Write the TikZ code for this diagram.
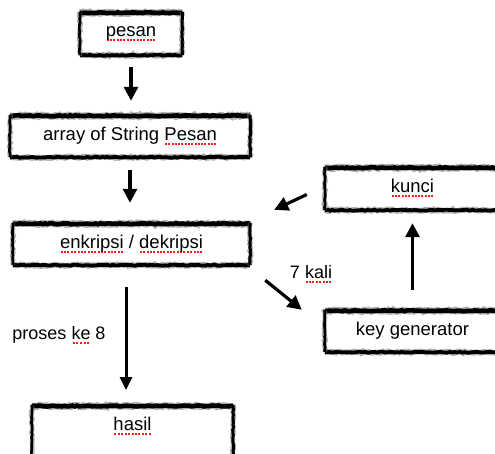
\documentclass[tikz,border=0pt]{standalone}
\usepackage{fontspec}
\setmainfont{Liberation Sans}
\usetikzlibrary{arrows.meta,decorations.pathmorphing}

% red dotted spell-check underline below a word
\newcommand\sqword[1]{\setbox0\hbox{#1}\rlap{\raisebox{-4.5pt}{\color{red!90}\hbox to \wd0{\xleaders\hbox to 3.2pt{\hss\rule{2pt}{2pt}\hss}\hfill}}}\box0\relax}

% hand-brushed frame round a named box
\newcommand\brushframe[1]{%
  \draw[brushfuzz, line width=6.5pt] ([yshift=-1pt]#1.north west) -- ([yshift=-1pt]#1.north east);
  \draw[brushink,  line width=4.6pt] ([yshift=-1pt]#1.north west) -- ([yshift=-1pt]#1.north east);
  \draw[brushfuzz, line width=5.5pt] (#1.south west) -- (#1.south east);
  \draw[brushink,  line width=3.8pt] (#1.south west) -- (#1.south east);
  \draw[brushfuzz, line width=4.5pt] (#1.north west) -- (#1.south west);
  \draw[brushink,  line width=2.6pt] (#1.north west) -- (#1.south west);
  \draw[brushfuzz, line width=4.5pt] (#1.north east) -- (#1.south east);
  \draw[brushink,  line width=3pt] (#1.north east) -- (#1.south east);
}

\begin{document}
\begin{tikzpicture}[x=1pt,y=-1pt,
  box/.style={rectangle, fill=white, inner sep=0pt, font=\fontsize{18.5}{21}\selectfont},
  lbl/.style={inner sep=0pt, font=\fontsize{18}{21}\selectfont},
  brushink/.style={black, line cap=butt,
    decorate, decoration={random steps, segment length=2.5pt, amplitude=0.5pt}},
  brushfuzz/.style={black!55, opacity=0.55, line cap=butt,
    decorate, decoration={random steps, segment length=2pt, amplitude=0.9pt}},
  arr/.style={line width=3.2pt, -{Triangle[length=14pt,width=14pt]}},
  thinarr/.style={line width=3pt, -{Triangle[length=13pt,width=12pt]}}]

\clip (0,0) rectangle (495,453);

% boxes
\node[box, minimum width=102pt, minimum height=43pt] (pesan) at (131,33.5) {\sqword{pesan}};
\node[box, minimum width=240pt, minimum height=42pt] (array) at (130,136) {array of String \sqword{Pesan}};
\node[box, minimum width=237pt, minimum height=42pt] (enk) at (131.5,244) {\sqword{enkripsi} / \sqword{dekripsi}};
\node[box, minimum width=175pt, minimum height=43pt] (kunci) at (412.5,188.5) {\sqword{kunci}};
\node[box, minimum width=175pt, minimum height=42pt] (keygen) at (412.5,331) {key generator};
\node[box, anchor=north, minimum width=201pt, text height=13pt, text depth=23pt, inner ysep=12pt] (hasil) at (132.5,405) {\sqword{hasil}};

\foreach \b in {pesan,array,enk,kunci,keygen,hasil} {\brushframe{\b}}

% labels
\node[lbl] (tujuh) at (311,274) {7 \sqword{kali}};
\node[lbl] (proses) at (59,335) {proses \sqword{ke} 8};

% connectors
\draw[arr, shorten <=12pt, shorten >=14pt] (pesan.south) -- (pesan.south |- array.north);
\draw[arr, shorten <=13pt, shorten >=20pt] (array.south) -- (array.south |- enk.north);
\draw[thinarr, shorten <=22pt, shorten >=15pt] ([xshift=-5.5pt]enk.south) -- ([xshift=-5.5pt]enk.south |- hasil.north);
\draw[arr, shorten <=20pt, shorten >=13pt] (keygen.north) -- (kunci.south);
\draw[arr] ([xshift=-18pt,yshift=-6pt]kunci.west) -- ([xshift=24pt,yshift=13pt]enk.north east);
\draw[arr] ([xshift=15pt,yshift=-15pt]enk.south east) -- ([xshift=-23pt]keygen.north west);

\end{tikzpicture}
\end{document}
